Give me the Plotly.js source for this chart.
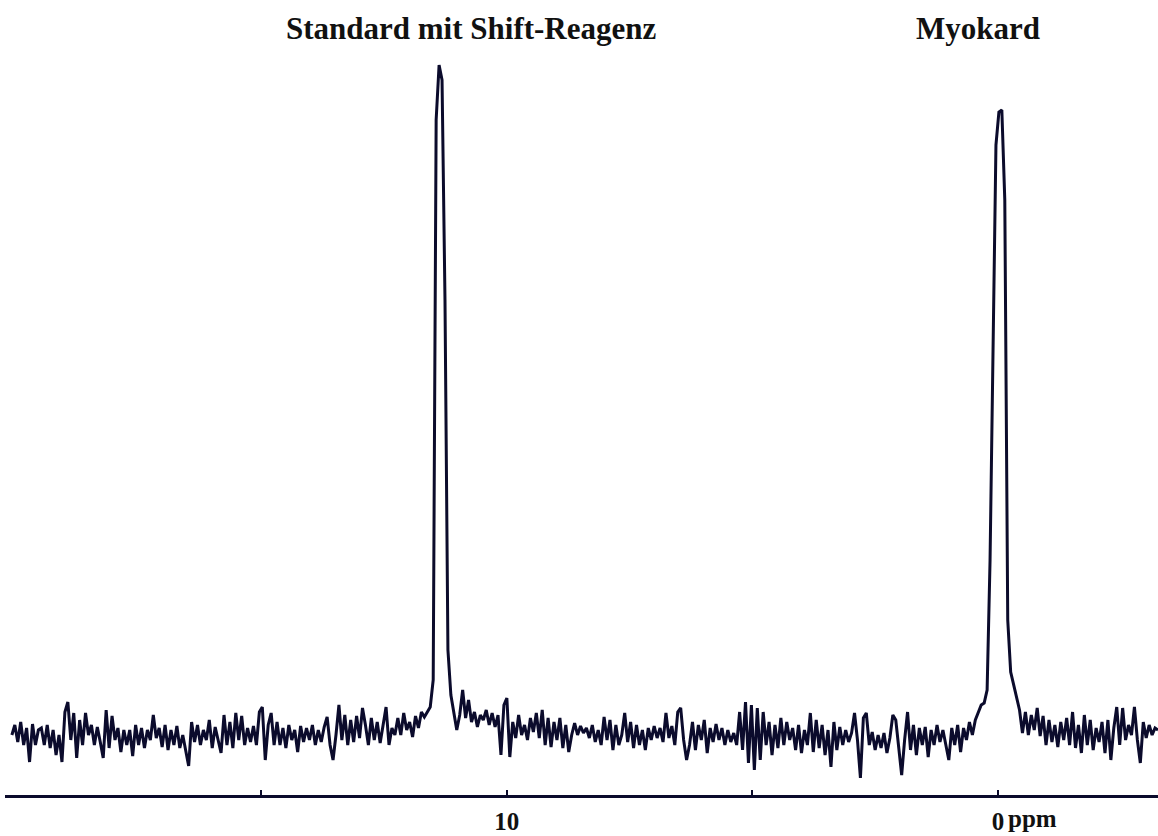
<!DOCTYPE html>
<html>
<head>
<meta charset="utf-8">
<script src="https://cdn.plot.ly/plotly-3.0.1.min.js"></script>
<style>html,body{margin:0;padding:0;background:#fff;}#chart{width:1158px;height:836px;}</style>
</head>
<body>
<div id="chart"></div>
<script>
// Spectrum sampling grid (ppm), uniform spacing as in an acquired spectrum
const ppmStart = 20.08;
const ppmStep = 0.06;
// Signal intensity (arbitrary units), one value per grid point
const intensity = [
  60,70,53,73,50,67,33,71,50,65,
  67,50,70,47,65,40,60,33,83,93,
  55,82,37,75,50,82,60,70,50,68,
  53,37,85,47,79,55,67,43,65,50,
  65,39,70,50,67,47,65,55,80,57,
  67,48,70,45,65,50,69,47,60,43,
  29,73,53,70,50,65,55,75,47,68,
  55,42,80,50,73,47,82,55,79,50,
  67,53,69,50,83,88,35,70,82,50,
  73,50,67,47,70,55,65,43,69,53,
  67,55,70,50,65,53,68,78,50,35,
  60,90,55,80,50,75,53,79,57,87,
  70,50,77,55,73,52,70,88,50,67,
  60,77,60,82,65,73,58,79,67,83,
  78,83,88,115,675,730,715,495,145,100,
  83,65,80,105,77,95,73,83,68,80,
  75,85,70,82,68,80,40,90,97,38,
  73,57,80,60,70,55,77,63,82,57,
  85,50,77,48,73,55,77,47,70,43,
  60,72,60,69,62,67,57,70,53,65,
  50,78,55,75,45,70,50,60,82,53,
  73,47,70,50,65,45,67,55,69,57,
  67,53,82,57,69,50,83,87,55,35,
  50,73,45,70,55,75,42,67,53,71,
  55,67,50,65,53,62,50,83,45,93,
  32,90,25,87,35,83,50,73,40,70,
  47,77,50,73,55,67,45,70,42,65,
  50,82,43,75,47,70,40,65,28,73,
  45,68,50,65,53,62,82,55,17,77,
  82,50,63,45,60,47,62,42,57,80,
  75,50,20,55,83,45,70,40,67,50,
  68,38,65,50,70,53,65,50,35,67,
  50,70,43,67,55,73,60,75,83,90,
  92,105,235,445,650,683,685,595,175,123,
  110,98,85,62,83,60,80,65,87,59,
  79,50,75,53,70,48,73,55,77,50,
  83,47,70,42,80,50,75,45,67,53,
  73,42,75,35,67,88,50,87,55,70,
  60,88,55,32,73,57,70,60,67,65
];
const tickValues = [15, 10, 5, 0];
const tickLabels = ['', '10', '', '0'];
const peakLabels = ['Standard mit Shift-Reagenz', 'Myokard'];
const peakLabelPpm = [10.71, 0.41];

const ppm = intensity.map((_, i) => +(ppmStart - i * ppmStep).toFixed(3));
const ink = '#0b0b2c';

const trace = {
  x: ppm, y: intensity, type: 'scatter', mode: 'lines',
  line: {color: ink, width: 3, shape: 'linear'},
  hoverinfo: 'skip'
};

const annotations = peakLabels.map((t, i) => ({
  text: t, x: peakLabelPpm[i], xref: 'x', y: 1, yref: 'paper',
  yshift: -28, yanchor: 'middle', xanchor: 'center', showarrow: false,
  font: {family: 'Liberation Serif', size: 31, color: '#111', weight: 'bold'}
}));
annotations.push({
  text: 'ppm', x: 0, xref: 'x', y: 0, yref: 'paper', yshift: -23,
  xanchor: 'left', xshift: 8, yanchor: 'middle', showarrow: false,
  font: {family: 'Liberation Serif', size: 25, color: '#111', weight: 'bold'}
});

const layout = {
  width: 1158, height: 836,
  margin: {l: 5, r: 0, t: 0, b: 41, pad: 0},
  paper_bgcolor: '#fff', plot_bgcolor: '#fff',
  showlegend: false,
  xaxis: {
    range: [20.22, -3.26], showgrid: false, zeroline: false,
    showline: true, linecolor: ink, linewidth: 3,
    ticks: 'inside', ticklen: 5, tickwidth: 2, tickcolor: ink,
    ticklabelstandoff: 2,
    tickmode: 'array', tickvals: tickValues, ticktext: tickLabels,
    tickfont: {family: 'Liberation Serif', size: 25, color: '#111', weight: 'bold'}
  },
  yaxis: {range: [0, 795], visible: false, showgrid: false, zeroline: false},
  annotations: annotations
};

Plotly.newPlot('chart', [trace], layout, {displayModeBar: false, staticPlot: true});
</script>
</body>
</html>
